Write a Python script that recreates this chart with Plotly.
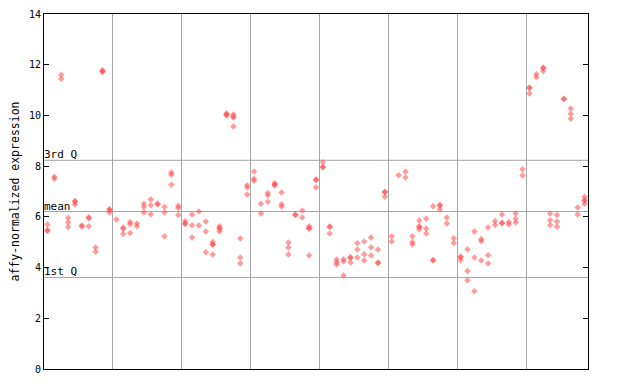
import plotly.graph_objects as go

# expression values per sample (index 0..78), up to 4 replicates each
rep_a = [5.70, 7.58, 11.60, 5.96, 6.63, 5.66, 5.98, 4.79, 11.78, 6.31,
         5.90, 5.58, 5.80, 5.74, 6.52, 6.68, 6.53, 6.39, 7.75, 6.44,
         5.84, 6.09, 6.21, 5.82, 5.01, 5.63, 10.08, 10.04, 5.15, 7.25,
         7.79, 6.52, 6.94, 7.33, 6.96, 4.99, 6.09, 6.25, 5.63, 7.47,
         8.15, 5.62, 4.32, 4.33, 4.41, 4.96, 5.03, 5.19, 4.71, 6.99,
         5.24, 7.64, 7.78, 5.24, 5.86, 5.93, 6.42, 6.48, 5.97, 5.16,
         4.43, 4.71, 5.42, 5.13, 5.58, 5.84, 6.09, 5.80, 6.13, 7.88,
         11.10, 11.62, 11.89, 6.13, 6.07, 10.66, 10.27, 6.37, 6.79]
rep_b = [5.47, 7.50, 11.45, 5.78, 6.60, 5.62, 5.94, 4.62, 11.74, 6.27,
         None, 5.52, 5.71, 5.63, 6.39, 6.46, 6.49, 6.17, 7.66, 6.35,
         5.75, 5.67, 5.66, 5.42, 4.92, 5.55, 10.04, 9.96, 4.40, 7.16,
         7.50, 6.13, 6.84, 7.28, 6.50, 4.79, 6.07, 5.97, 5.55, 7.45,
         7.98, 5.60, 4.21, 4.24, 4.39, 4.71, 4.53, 4.80, 4.20, 6.97,
         5.03, None, 7.55, 5.01, 5.62, 5.54, 4.30, 6.44, 5.74, 4.97,
         4.41, 3.86, 4.40, 5.04, 4.49, 5.68, 5.77, 5.70, 5.93, 7.63,
         11.08, 11.51, 11.86, 5.87, 5.82, 10.64, 10.07, 6.09, 6.66]
rep_c = [5.45, None, None, 5.60, 6.49, None, 5.63, None, 11.72, 6.17,
         None, 5.32, 5.36, None, 6.17, 6.10, None, 5.24, 7.27, 6.07,
         5.72, 5.19, None, 4.60, 4.90, 5.53, 10.00, 9.92, 4.16, 6.88,
         7.42, None, 6.60, 7.24, 6.41, 4.52, None, None, 5.53, 7.17,
         7.96, 5.34, 4.12, 3.69, 4.20, 4.40, 4.28, 4.48, 4.18, 6.79,
         None, None, None, 4.92, 5.60, 5.34, 4.28, 6.29, None, None,
         4.29, 3.50, 3.07, 4.28, 4.16, None, 5.75, None, 5.78, None,
         10.86, None, 11.75, 5.67, 5.61, None, 9.87, None, 6.64]
rep_d = [None] * 24 + [4.52, 5.42, None, 9.56] + [None] * 10 + [4.48] + [None] * 15 + \
        [5.51] + [None] * 23 + [6.52]

n_samples = len(rep_a)
group_edges = [9.5, 19.5, 29.5, 39.5, 49.5, 59.5, 69.5]
q3_value = 8.23
mean_value = 6.21
q1_value = 3.61
y_ticks = [0, 2, 4, 6, 8, 10, 12, 14]

xs, ys = [], []
for rep in (rep_a, rep_b, rep_c, rep_d):
    for i, v in enumerate(rep):
        if v is not None:
            xs.append(i)
            ys.append(v)

mono = "DejaVu Sans Mono"
fig = go.Figure()
fig.add_trace(go.Scatter(
    x=xs, y=ys, mode="markers",
    marker=dict(symbol="diamond", size=5, color="#ff4a4a", opacity=0.55,
                line=dict(width=0)),
    hoverinfo="skip", showlegend=False))

for val, label in ((q3_value, "3rd Q"), (mean_value, "mean"), (q1_value, "1st Q")):
    fig.add_shape(type="line", xref="paper", yref="y", x0=0, x1=1, y0=val, y1=val,
                  line=dict(color="#a6a6a6", width=1), layer="below")
    fig.add_annotation(xref="paper", yref="y", x=0, y=val, text=label,
                       showarrow=False, xanchor="left", yanchor="bottom",
                       xshift=-2, yshift=-3,
                       font=dict(family=mono, size=11, color="black"))

fig.update_xaxes(range=[-0.5, n_samples - 0.5], tickvals=group_edges,
                 showticklabels=False, ticks="", showgrid=True,
                 gridcolor="#a6a6a6", gridwidth=1, zeroline=False, automargin=False,
                 showline=True, linecolor="black", linewidth=1, mirror=True)
fig.update_yaxes(range=[0, 14], tickvals=y_ticks, ticks="inside", ticklen=5,
                 tickcolor="black", tickwidth=1, showgrid=False, zeroline=False,
                 automargin=False, ticklabeloverflow="allow",
                 showline=True, linecolor="black", linewidth=1, mirror="ticks",
                 tickfont=dict(family=mono, size=10, color="black"),
                 title=dict(text="affy-normalized expression",
                            font=dict(family=mono, size=11.5, color="black"),
                            standoff=6))
# page body has an 8px default margin; margins compensate so the plot area
# lands where the reference has it in the 640x384 window
fig.update_layout(width=640, height=384, plot_bgcolor="white", paper_bgcolor="white",
                  margin=dict(l=36, r=60, t=6, b=23, autoexpand=False))
fig.write_html("out.html")
